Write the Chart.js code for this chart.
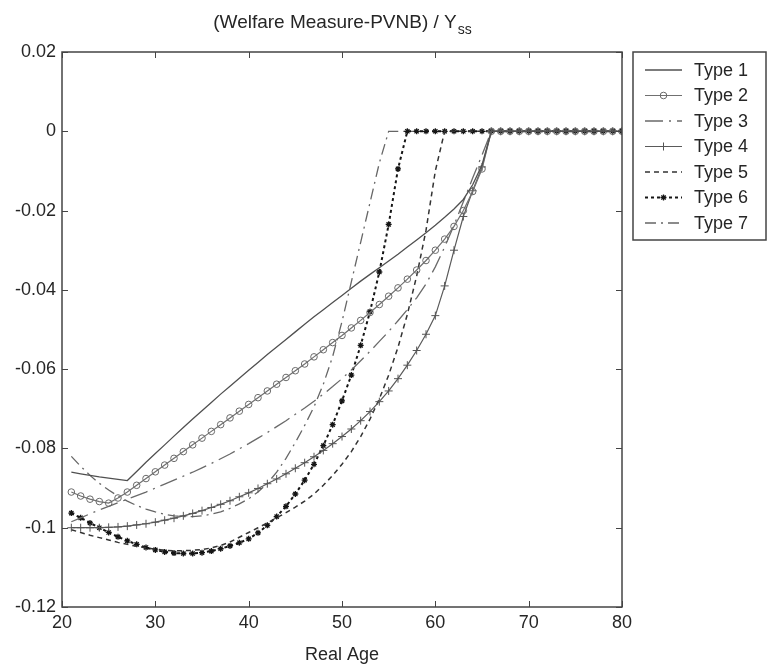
<!DOCTYPE html>
<html>
<head>
<meta charset="utf-8">
<script src="https://cdn.jsdelivr.net/npm/chart.js@4.4.1/dist/chart.umd.min.js"></script>
<style>
  html, body { margin: 0; padding: 0; background: #fff; }
</style>
</head>
<body>
<canvas id="welfareChart" width="769" height="666"></canvas>
<script>
// ages on the x axis
const ages = [21, 22, 23, 24, 25, 26, 27, 28, 29, 30, 31, 32, 33, 34, 35, 36, 37, 38, 39, 40,
  41, 42, 43, 44, 45, 46, 47, 48, 49, 50, 51, 52, 53, 54, 55, 56, 57, 58, 59, 60,
  61, 62, 63, 64, 65, 66, 67, 68, 69, 70, 71, 72, 73, 74, 75, 76, 77, 78, 79, 80];

// (Welfare Measure - PVNB) / Yss, one value per age
const type1 = [-0.0860, -0.0864, -0.0868, -0.0872, -0.0875, -0.0878, -0.0881, -0.0858, -0.0835, -0.0813,
  -0.0791, -0.0769, -0.0747, -0.0726, -0.0705, -0.0684, -0.0663, -0.0643, -0.0623, -0.0603,
  -0.0583, -0.0563, -0.0544, -0.0525, -0.0506, -0.0487, -0.0468, -0.0450, -0.0432, -0.0414,
  -0.0396, -0.0378, -0.0361, -0.0344, -0.0327, -0.0310, -0.0292, -0.0274, -0.0256, -0.0237,
  -0.0217, -0.0196, -0.0172, -0.0135, -0.0085, 0, 0, 0, 0, 0, 0, 0, 0, 0, 0, 0, 0, 0, 0, 0];
const type2 = [-0.0910, -0.0920, -0.0928, -0.0934, -0.0938, -0.0925, -0.0910, -0.0893, -0.0876, -0.0859,
  -0.0842, -0.0825, -0.0808, -0.0791, -0.0774, -0.0757, -0.0740, -0.0723, -0.0706, -0.0689,
  -0.0672, -0.0655, -0.0638, -0.0621, -0.0604, -0.0587, -0.0569, -0.0551, -0.0533, -0.0515,
  -0.0496, -0.0477, -0.0457, -0.0437, -0.0416, -0.0395, -0.0373, -0.0350, -0.0326, -0.0300,
  -0.0272, -0.0240, -0.0200, -0.0152, -0.0095, 0, 0, 0, 0, 0, 0, 0, 0, 0, 0, 0, 0, 0, 0, 0];
const type3 = [-0.0985, -0.0975, -0.0965, -0.0955, -0.0946, -0.0937, -0.0928, -0.0919, -0.0910, -0.0900,
  -0.0890, -0.0880, -0.0870, -0.0860, -0.0849, -0.0838, -0.0826, -0.0814, -0.0801, -0.0788,
  -0.0774, -0.0760, -0.0745, -0.0730, -0.0714, -0.0698, -0.0681, -0.0663, -0.0644, -0.0624,
  -0.0602, -0.0579, -0.0555, -0.0530, -0.0505, -0.0478, -0.0450, -0.0420, -0.0385, -0.0342,
  -0.0292, -0.0237, -0.0178, -0.0118, -0.0060, 0, 0, 0, 0, 0, 0, 0, 0, 0, 0, 0, 0, 0, 0, 0];
const type4 = [-0.1000, -0.1000, -0.1000, -0.1000, -0.0999, -0.0998, -0.0996, -0.0993, -0.0990, -0.0986,
  -0.0981, -0.0976, -0.0970, -0.0964, -0.0957, -0.0949, -0.0941, -0.0932, -0.0922, -0.0912,
  -0.0901, -0.0889, -0.0877, -0.0864, -0.0850, -0.0836, -0.0821, -0.0805, -0.0788, -0.0770,
  -0.0751, -0.0730, -0.0707, -0.0682, -0.0655, -0.0624, -0.0590, -0.0553, -0.0512, -0.0465,
  -0.0390, -0.0300, -0.0215, -0.0150, -0.0090, 0, 0, 0, 0, 0, 0, 0, 0, 0, 0, 0, 0, 0, 0, 0];
const type5 = [-0.1005, -0.1012, -0.1019, -0.1025, -0.1031, -0.1037, -0.1042, -0.1047, -0.1051, -0.1054,
  -0.1057, -0.1058, -0.1058, -0.1057, -0.1055, -0.1051, -0.1045, -0.1036, -0.1024, -0.1012,
  -0.1000, -0.0988, -0.0975, -0.0962, -0.0948, -0.0933, -0.0915, -0.0893, -0.0868, -0.0840,
  -0.0808, -0.0770, -0.0726, -0.0675, -0.0615, -0.0545, -0.0462, -0.0365, -0.0250, -0.0100,
  0, 0, 0, 0, 0, 0, 0, 0, 0, 0, 0, 0, 0, 0, 0, 0, 0, 0, 0, 0];
const type6 = [-0.0963, -0.0975, -0.0988, -0.1000, -0.1012, -0.1023, -0.1033, -0.1042, -0.1050, -0.1056,
  -0.1061, -0.1064, -0.1065, -0.1065, -0.1063, -0.1059, -0.1053, -0.1046, -0.1038, -0.1028,
  -0.1013, -0.0994, -0.0972, -0.0946, -0.0915, -0.0880, -0.0840, -0.0793, -0.0740, -0.0680,
  -0.0615, -0.0540, -0.0455, -0.0355, -0.0235, -0.0095, 0, 0, 0, 0,
  0, 0, 0, 0, 0, 0, 0, 0, 0, 0, 0, 0, 0, 0, 0, 0, 0, 0, 0, 0];
const type7 = [-0.0820, -0.0845, -0.0868, -0.0888, -0.0905, -0.0920, -0.0933, -0.0944, -0.0953, -0.0960,
  -0.0966, -0.0970, -0.0972, -0.0972, -0.0970, -0.0966, -0.0960, -0.0951, -0.0940, -0.0927,
  -0.0910, -0.0888, -0.0860, -0.0825, -0.0785, -0.0742, -0.0695, -0.0638, -0.0568, -0.0480,
  -0.0380, -0.0280, -0.0180, -0.0080, 0, 0, 0, 0, 0, 0,
  0, 0, 0, 0, 0, 0, 0, 0, 0, 0, 0, 0, 0, 0, 0, 0, 0, 0, 0, 0];

const seriesNames = ['Type 1', 'Type 2', 'Type 3', 'Type 4', 'Type 5', 'Type 6', 'Type 7'];
const xTicks = [20, 30, 40, 50, 60, 70, 80];
const yTicks = [0.02, 0, -0.02, -0.04, -0.06, -0.08, -0.1, -0.12];

const FONT = '"Liberation Sans", Arial, sans-serif';
const INK = '#262626';

function series(values) {
  return ages.map(function(a, i) { return { x: a, y: values[i] }; });
}

// title with the "ss" subscript, drawn above the axes
const titlePlugin = {
  id: 'subTitle',
  afterDraw: function(chart) {
    const ctx = chart.ctx, area = chart.chartArea;
    const main = '(Welfare Measure-PVNB) / Y';
    ctx.save();
    ctx.fillStyle = INK;
    ctx.font = '19px ' + FONT;
    const w1 = ctx.measureText(main).width;
    ctx.font = '14px ' + FONT;
    const w2 = ctx.measureText('ss').width;
    const x0 = (area.left + area.right) / 2 - (w1 + w2) / 2;
    ctx.textBaseline = 'alphabetic';
    ctx.font = '19px ' + FONT;
    ctx.fillText(main, x0, 28);
    ctx.font = '14px ' + FONT;
    ctx.fillText('ss', x0 + w1 + 1, 34);
    ctx.restore();
  }
};

// box around the axes with inward ticks on every side
const boxPlugin = {
  id: 'axesBox',
  afterDatasetsDraw: function(chart) {
    const ctx = chart.ctx, a = chart.chartArea;
    const xs = chart.scales.x, ys = chart.scales.y;
    ctx.save();
    ctx.strokeStyle = '#444';
    ctx.lineWidth = 1.5;
    ctx.strokeRect(a.left, a.top, a.right - a.left, a.bottom - a.top);
    ctx.lineWidth = 1;
    ctx.beginPath();
    xTicks.forEach(function(t) {
      const px = Math.round(xs.getPixelForValue(t)) + 0.5;
      ctx.moveTo(px, a.bottom); ctx.lineTo(px, a.bottom - 6);
      ctx.moveTo(px, a.top); ctx.lineTo(px, a.top + 6);
    });
    yTicks.forEach(function(t) {
      const py = Math.round(ys.getPixelForValue(t)) + 0.5;
      ctx.moveTo(a.left, py); ctx.lineTo(a.left + 6, py);
      ctx.moveTo(a.right, py); ctx.lineTo(a.right - 6, py);
    });
    ctx.stroke();
    ctx.restore();
  }
};

// legend box to the right of the axes
const legendPlugin = {
  id: 'sideLegend',
  afterDraw: function(chart) {
    const ctx = chart.ctx;
    const left = 633, top = 52, right = 766, bottom = 240;
    ctx.save();
    ctx.strokeStyle = '#444';
    ctx.lineWidth = 1.5;
    ctx.strokeRect(left, top, right - left, bottom - top);
    chart.data.datasets.forEach(function(ds, i) {
      const y = 70 + i * 25.5;
      ctx.strokeStyle = ds.borderColor;
      ctx.lineWidth = ds.borderWidth;
      ctx.setLineDash(ds.borderDash || []);
      ctx.beginPath();
      ctx.moveTo(645, y); ctx.lineTo(682, y);
      ctx.stroke();
      ctx.setLineDash([]);
      if (ds.pointRadius > 0) {
        ctx.strokeStyle = ds.pointBorderColor;
        ctx.fillStyle = ds.pointBackgroundColor;
        ctx.lineWidth = ds.pointBorderWidth;
        Chart.helpers.drawPoint(ctx, { pointStyle: ds.pointStyle, radius: ds.pointRadius, borderWidth: ds.pointBorderWidth }, 663.5, y);
      }
      ctx.fillStyle = INK;
      ctx.font = '18px ' + FONT;
      ctx.textBaseline = 'middle';
      ctx.fillText(seriesNames[i], 694, y + 1);
    });
    ctx.restore();
  }
};

function line(name, values, color, width, dash, extra) {
  return Object.assign({
    label: name,
    data: series(values),
    borderColor: color,
    borderWidth: width,
    borderDash: dash,
    pointRadius: 0,
    pointStyle: 'circle',
    pointBorderColor: color,
    pointBackgroundColor: 'rgba(0,0,0,0)',
    pointBorderWidth: 1,
    tension: 0,
    fill: false
  }, extra || {});
}

const ctx = document.getElementById('welfareChart').getContext('2d');
const welfareChart = new Chart(ctx, {
  type: 'line',
  data: {
    datasets: [
      line(seriesNames[0], type1, '#505050', 1.3, []),
      line(seriesNames[1], type2, '#707070', 1.2, [], { pointRadius: 3.3, pointStyle: 'circle', pointBorderColor: '#6a6a6a' }),
      line(seriesNames[2], type3, '#6a6a6a', 1.3, [18, 6, 2, 6]),
      line(seriesNames[3], type4, '#5a5a5a', 1.2, [], { pointRadius: 4, pointStyle: 'cross', pointBorderColor: '#555' }),
      line(seriesNames[4], type5, '#333333', 1.5, [5, 4]),
      line(seriesNames[5], type6, '#151515', 2, [3, 3], { pointRadius: 3, pointStyle: 'star', pointBorderColor: '#151515', pointBorderWidth: 1.3 }),
      line(seriesNames[6], type7, '#666666', 1.3, [11, 5, 2, 5])
    ]
  },
  options: {
    responsive: false,
    animation: false,
    layout: {
      padding: { top: 52, right: 147, bottom: 0, left: 0 }
    },
    plugins: {
      legend: { display: false },
      title: { display: false },
      tooltip: { enabled: false }
    },
    scales: {
      x: {
        type: 'linear',
        min: 20,
        max: 80,
        afterBuildTicks: function(scale) { scale.ticks = xTicks.map(function(v) { return { value: v }; }); },
        afterFit: function(scale) { scale.height = 59; },
        grid: { display: false, drawTicks: false },
        border: { display: false },
        ticks: {
          padding: 5,
          color: INK,
          font: { family: FONT, size: 18 },
          maxRotation: 0
        },
        title: {
          display: true,
          text: 'Real Age',
          color: INK,
          font: { family: FONT, size: 18 },
          padding: { top: 2, bottom: 0 }
        }
      },
      y: {
        type: 'linear',
        min: -0.12,
        max: 0.02,
        afterBuildTicks: function(scale) { scale.ticks = yTicks.map(function(v) { return { value: v }; }); },
        afterFit: function(scale) { scale.width = 62; },
        grid: { display: false, drawTicks: false },
        border: { display: false },
        ticks: {
          padding: 6,
          color: INK,
          font: { family: FONT, size: 18 },
          callback: function(v) { return Math.abs(v) < 1e-9 ? '0' : String(+v.toFixed(2)); }
        }
      }
    }
  },
  plugins: [titlePlugin, boxPlugin, legendPlugin]
});
</script>
</body>
</html>
